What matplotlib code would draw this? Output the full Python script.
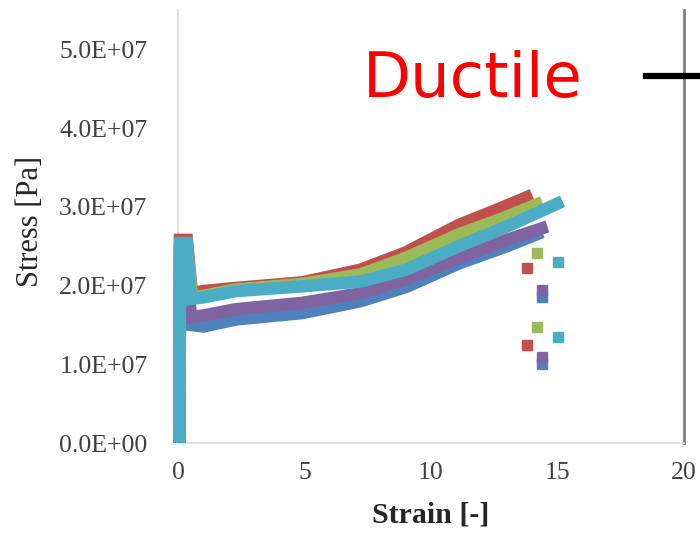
"""Stress-strain curves (ductile case) redrawn from a slide screenshot."""

import matplotlib

matplotlib.use("Agg")
import matplotlib.pyplot as plt
from matplotlib.ticker import FuncFormatter

# strain [-] and stress [1e7 Pa] per specimen
blue_x = [0.06, 0.08, 0.35, 0.5, 1.0, 2.3, 4.9, 7.2, 9.0, 11.1, 13.0, 14.4]
blue_y = [0.0, 2.40, 2.40, 1.50, 1.48, 1.57, 1.65, 1.80, 1.98, 2.28, 2.50, 2.68]
red_x = [0.06, 0.08, 0.35, 0.55, 1.0, 2.3, 4.9, 7.2, 9.0, 11.1, 12.5, 14.0]
red_y = [0.0, 2.58, 2.58, 1.90, 1.93, 1.97, 2.04, 2.20, 2.42, 2.77, 2.95, 3.15]
green_x = [0.06, 0.08, 0.35, 0.55, 1.0, 2.3, 4.9, 7.2, 9.0, 11.1, 12.8, 14.4]
green_y = [0.0, 2.50, 2.50, 1.85, 1.87, 1.95, 2.02, 2.14, 2.35, 2.65, 2.85, 3.06]
purple_x = [0.06, 0.08, 0.35, 0.5, 1.0, 2.3, 4.9, 7.2, 9.0, 11.1, 13.0, 14.6]
purple_y = [0.0, 2.45, 2.45, 1.60, 1.62, 1.70, 1.78, 1.90, 2.08, 2.35, 2.58, 2.75]
cyan_x = [0.06, 0.08, 0.35, 0.5, 1.0, 2.3, 4.9, 7.2, 9.0, 11.1, 13.0, 15.2]
cyan_y = [0.0, 2.54, 2.54, 1.83, 1.85, 1.93, 1.99, 2.05, 2.20, 2.50, 2.75, 3.07]

# loose points after fracture
blue_pts_x = [14.4, 14.4]
blue_pts_y = [1.85, 1.00]
red_pts_x = [13.8, 13.8]
red_pts_y = [2.22, 1.24]
green_pts_x = [14.2, 14.2]
green_pts_y = [2.41, 1.47]
purple_pts_x = [14.4, 14.4]
purple_pts_y = [1.94, 1.09]
cyan_pts_x = [15.0, 15.0]
cyan_pts_y = [2.30, 1.35]

x_ticks = [0, 5, 10, 15, 20]
y_ticks = [0.0, 1e7, 2e7, 3e7, 4e7, 5e7]

series = [
    (blue_x, blue_y, blue_pts_x, blue_pts_y, "#4F81BD"),
    (red_x, red_y, red_pts_x, red_pts_y, "#C0504D"),
    (green_x, green_y, green_pts_x, green_pts_y, "#9BBB59"),
    (purple_x, purple_y, purple_pts_x, purple_pts_y, "#8064A2"),
    (cyan_x, cyan_y, cyan_pts_x, cyan_pts_y, "#4BACC6"),
]

fig = plt.figure(figsize=(7.0, 5.34), dpi=100)
ax = fig.add_axes([178 / 700, 1 - 443 / 534, 506 / 700, 433 / 534])

for xs, ys, px, py, color in series:
    ax.plot(xs, [v * 1e7 for v in ys], "-", color=color, linewidth=9,
            solid_capstyle="butt", solid_joinstyle="miter", clip_on=False, zorder=3)
    ax.plot(px, [v * 1e7 for v in py], "s", color=color, markersize=7, linestyle="none",
            zorder=3)

ax.set_xlim(0, 20)
ax.set_ylim(0, 5.5e7)
ax.set_xticks(x_ticks)
ax.set_yticks(y_ticks)
ax.yaxis.set_major_formatter(FuncFormatter(lambda v, _: f"{v:.1E}"))
ax.tick_params(length=0, labelsize=18.5, colors="#404040", pad=22)
ax.tick_params(axis="x", pad=14)
for lab in ax.get_xticklabels() + ax.get_yticklabels():
    lab.set_family("Liberation Serif")

for side in ("top", "right"):
    ax.spines[side].set_visible(False)
for side in ("left", "bottom"):
    ax.spines[side].set_color("#d9d9d9")
    ax.spines[side].set_linewidth(1.2)

# border of the neighbouring chart on the slide
ax.axvline(20, color="#7f7f7f", linewidth=2, clip_on=False)
ax.plot([18.5, 20.8], [4.66e7, 4.66e7], "-", color="black", linewidth=4.5, clip_on=False)

ax.set_xlabel("Strain [-]", family="Liberation Serif", fontsize=21.5, fontweight="bold",
              color="#262626")
ax.set_ylabel("Stress [Pa]", family="Liberation Serif", fontsize=22, color="#262626")
ax.xaxis.set_label_coords(0.5, -0.135)
ax.yaxis.set_label_coords(-0.262, 0.512)

fig.text(363 / 700, 1 - 97 / 534, "Ductile", color="red", fontsize=45,
         family="DejaVu Sans", ha="left", va="baseline")

fig.savefig("out.png", dpi=100)
